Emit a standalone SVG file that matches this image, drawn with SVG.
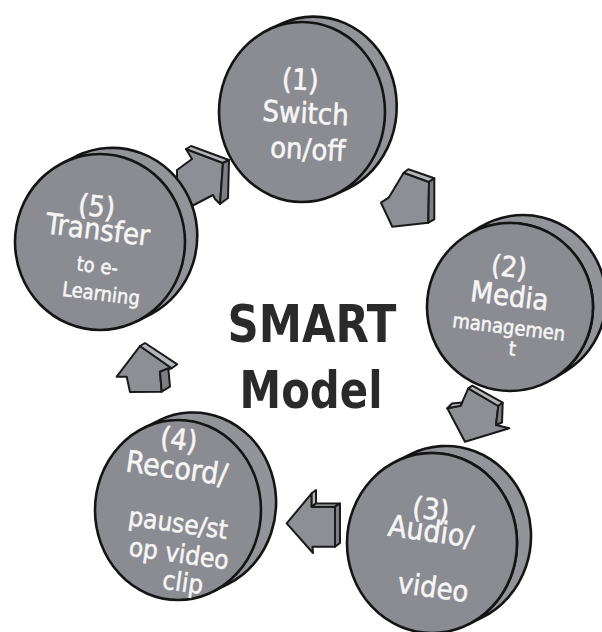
<svg xmlns="http://www.w3.org/2000/svg" width="602" height="632" viewBox="0 0 602 632">
<style>
.face{fill:#8b8c92;stroke:#141414;stroke-width:2.6}
.rim{fill:#93949a;stroke:#141414;stroke-width:2.6;stroke-linejoin:round}
.af{fill:#8e8f95;stroke:#1a1a1a;stroke-width:2;stroke-linejoin:round}
.at{fill:#b6b7bc;stroke:#1a1a1a;stroke-width:2;stroke-linejoin:round}
.as{fill:#7e7f85;stroke:#1a1a1a;stroke-width:2;stroke-linejoin:round}
.lbl{fill:#f6f6f6;stroke:#f6f6f6;stroke-width:0.5;font-family:'DejaVu Sans Condensed','DejaVu Sans',sans-serif;font-stretch:condensed;text-anchor:middle}
.title{fill:#2a2a2a;font-family:'DejaVu Sans Condensed','DejaVu Sans',sans-serif;font-stretch:condensed;font-weight:bold;text-anchor:middle}
</style>
<rect width="602" height="632" fill="#ffffff"/>
<g id="connectors">
  <g id="arrow-5-1">
    <polygon class="af" points="186,149 223,163 220,204 215,199 213,195 190,207 177,188 177,170 192,159"/>
    <polygon class="at" points="186,149 191,146 229,160 223,163"/>
    <polygon class="as" points="223,163 229,160 228,198 220,204"/>
  </g>
  <g id="arrow-1-2">
    <polygon class="af" points="403.7,172.7 429,182 428.3,222.7 392.3,226.7 381,202.7 389,197.3"/>
    <polygon class="at" points="403.7,172.7 408.3,169.3 434.3,178.3 429,182"/>
    <polygon class="as" points="429,182 434.3,178.3 434.3,219.3 428.3,222.7"/>
  </g>
  <g id="arrow-2-3">
    <polygon class="af" points="468.3,388.3 498.3,406 496,425 509.3,428.3 465,441.7 447.3,408.3 460.7,405.7"/>
    <polygon class="at" points="468.3,388.3 472.3,385.7 502.7,402.7 498.3,406"/>
    <polygon class="as" points="498.3,406 502.7,402.7 502,422.5 496,425"/>
    <polygon class="at" points="447.3,408.3 452,403.5 462,402.5 460.7,405.7"/>
  </g>
  <g id="arrow-3-4">
    <polygon class="af" points="286.7,523.3 311.7,493.3 311.7,506.7 335,506.7 335,546.7 312.5,546.7 313,553"/>
    <polygon class="at" points="311.7,493.3 316,490 316,503.5 311.7,506.7"/>
    <polygon class="at" points="311.7,506.7 316,503.5 340,503.5 335,506.7"/>
    <polygon class="as" points="335,506.7 340,503.5 340,543 335,546.7"/>
  </g>
  <g id="arrow-4-5">
    <polygon class="af" points="140,346 171.7,368.3 160,371.7 161.7,391.7 130,392 126.7,376.7 116.7,376.7"/>
    <polygon class="at" points="140,346 145,343 177.3,364.3 171.7,368.3"/>
    <polygon class="as" points="160,371.7 168.3,368.3 170,386.7 161.7,391.7"/>
  </g>
</g>
<g id="node1">
  <path class="rim" d="M269.5,29.2 A83,90 0 0 1 334.5,194.8 L347.5,188.8 A83,90 0 0 0 282.5,23.2 Z"/>
  <ellipse class="face" cx="302" cy="112" rx="83" ry="90"/>
  <g transform="rotate(3 304 125)">
    <text class="lbl" x="298" y="90" font-size="29">(1)</text>
    <text class="lbl" x="305" y="123" font-size="29">Switch</text>
    <text class="lbl" x="309" y="159" font-size="29">on/off</text>
  </g>
</g>
<g id="node2">
  <path class="rim" d="M466.9,235.2 A83,84 0 0 1 553.1,378.8 L566.1,370.8 A83,84 0 0 0 479.9,227.2 Z"/>
  <ellipse class="face" cx="510" cy="307" rx="83" ry="84"/>
  <g transform="rotate(7 510 310)">
    <text class="lbl" x="504" y="277" font-size="28">(2)</text>
    <text class="lbl" x="508" y="306" font-size="29">Media</text>
    <text class="lbl" x="511" y="334" font-size="20">managemen</text>
    <text class="lbl" x="517" y="355" font-size="20">t</text>
  </g>
</g>
<g id="node3">
  <path class="rim" d="M395.7,461.6 A85,90 0 0 1 468.3,624.4 L482.3,617.4 A85,90 0 0 0 409.7,454.6 Z"/>
  <ellipse class="face" cx="432" cy="543" rx="85" ry="90"/>
  <g transform="rotate(8 432 560)">
    <text class="lbl" x="424" y="520" font-size="29">(3)</text>
    <text class="lbl" x="427" y="542" font-size="30">Audio/</text>
    <text class="lbl" x="437" y="597" font-size="29">video</text>
  </g>
</g>
<g id="node4">
  <path class="rim" d="M143.2,428.3 A83,90 0 0 1 212.8,591.7 L228.8,583.7 A83,90 0 0 0 159.2,420.3 Z"/>
  <ellipse class="face" cx="178" cy="510" rx="83" ry="90"/>
  <g transform="rotate(8 178 510)">
    <text class="lbl" x="169" y="450" font-size="29">(4)</text>
    <text class="lbl" x="171" y="479" font-size="30">Record/</text>
    <text class="lbl" x="180" y="532" font-size="26">pause/st</text>
    <text class="lbl" x="185" y="562" font-size="26">op video</text>
    <text class="lbl" x="193" y="590" font-size="26">clip</text>
  </g>
</g>
<g id="node5">
  <path class="rim" d="M63,162.8 A85,88 0 0 1 137,321.2 L151,314.2 A85,88 0 0 0 77,155.8 Z"/>
  <ellipse class="face" cx="100" cy="242" rx="85" ry="88"/>
  <g transform="rotate(7 100 245)">
    <text class="lbl" x="92" y="217" font-size="29">(5)</text>
    <text class="lbl" x="96" y="240" font-size="29">Transfer</text>
    <text class="lbl" x="100" y="273" font-size="20">to e-</text>
    <text class="lbl" x="107" y="300" font-size="20">Learning</text>
  </g>
</g>
<g id="center-label">
  <text class="title" x="312" y="342" font-size="52" textLength="169" lengthAdjust="spacingAndGlyphs">SMART</text>
  <text class="title" x="311" y="408" font-size="52" textLength="143" lengthAdjust="spacingAndGlyphs">Model</text>
</g>
</svg>
